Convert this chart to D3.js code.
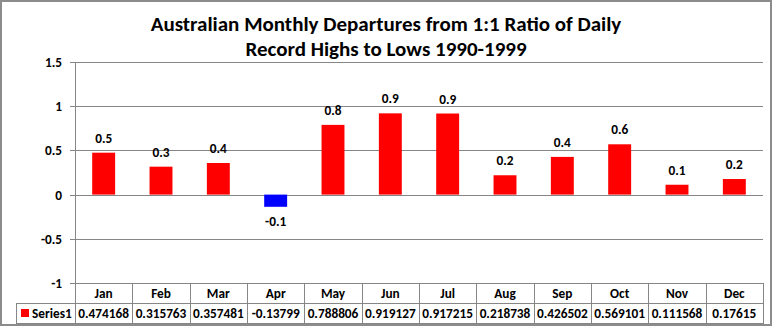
<!DOCTYPE html>
<html>
<head>
<meta charset="utf-8">
<script src="https://cdn.jsdelivr.net/npm/d3@7"></script>
<style>
  body { margin: 0; background: #fff; }
  svg text { font-family: Carlito, "Liberation Sans", Arial, sans-serif; font-weight: bold; fill: #000; }
</style>
</head>
<body>
<div id="chart"></div>
<script>
const months = ['Jan', 'Feb', 'Mar', 'Apr', 'May', 'Jun', 'Jul', 'Aug', 'Sep', 'Oct', 'Nov', 'Dec'];
const series1 = [0.474168, 0.315763, 0.357481, -0.13799, 0.788806, 0.919127, 0.917215, 0.218738, 0.426502, 0.569101, 0.111568, 0.17615];
const tableLabels = ['0.474168', '0.315763', '0.357481', '-0.13799', '0.788806', '0.919127', '0.917215', '0.218738', '0.426502', '0.569101', '0.111568', '0.17615'];
const yTicks = [-1, -0.5, 0, 0.5, 1, 1.5];
const titleLines = ['Australian Monthly Departures from 1:1 Ratio of Daily', 'Record Highs to Lows 1990-1999'];
const seriesName = 'Series1';

const width = 772;
const height = 326;
const margin = { top: 62, right: 9, bottom: 43, left: 75 };
const gridColor = '#868686';
const fs = '13.3px';

const svg = d3.select('#chart')
    .append('svg')
    .attr('width', width)
    .attr('height', height);

svg.append('rect')
    .attr('x', 1).attr('y', 1)
    .attr('width', width - 2).attr('height', height - 2)
    .attr('fill', '#fff')
    .attr('stroke', '#8c8c8c')
    .attr('stroke-width', 2);

const x = d3.scaleBand()
    .domain(months)
    .range([margin.left, width - margin.right]);

const xBar = d3.scaleBand()
    .domain(months)
    .range([margin.left, width - margin.right])
    .paddingInner(0.6)
    .paddingOuter(0.3);

const y = d3.scaleLinear()
    .domain([-1, 1.5])
    .range([height - margin.bottom, margin.top]);

const fmt = d => d3.format('.1f')(d).replace('−', '-');

// title
svg.append('g')
    .selectAll('text')
    .data(titleLines)
    .join('text')
    .attr('x', 386)
    .attr('y', (d, i) => 31 + i * 25)
    .attr('text-anchor', 'middle')
    .style('font-size', '21px')
    .text(d => d);

// gridlines + axis
const yAxis = svg.append('g')
    .attr('transform', `translate(${margin.left},0)`)
    .call(d3.axisLeft(y).tickValues(yTicks).tickSize(5).tickPadding(8).tickFormat(d => String(d)));
yAxis.select('.domain').remove();
yAxis.selectAll('line').attr('stroke', gridColor);
yAxis.selectAll('text').style('font-size', fs).attr('dy', '0.35em');
yAxis.selectAll('.tick').attr('transform', d => `translate(0,${Math.round(y(d)) + 0.5})`);

svg.append('g')
    .selectAll('line')
    .data(yTicks)
    .join('line')
    .attr('x1', margin.left)
    .attr('x2', width - margin.right)
    .attr('y1', d => Math.round(y(d)) + 0.5)
    .attr('y2', d => Math.round(y(d)) + 0.5)
    .attr('stroke', gridColor);

// bars
svg.append('g')
    .selectAll('rect')
    .data(series1)
    .join('rect')
    .attr('x', (d, i) => xBar(months[i]))
    .attr('y', d => y(Math.max(0, d)))
    .attr('width', xBar.bandwidth())
    .attr('height', d => Math.abs(y(d) - y(0)))
    .attr('fill', d => d < 0 ? '#0000ff' : '#ff0000');

// data labels
svg.append('g')
    .selectAll('text')
    .data(series1)
    .join('text')
    .attr('x', (d, i) => xBar(months[i]) + xBar.bandwidth() / 2)
    .attr('y', d => d < 0 ? y(d) + 19 : y(d) - 10)
    .attr('text-anchor', 'middle')
    .style('font-size', fs)
    .text(fmt);

// data table
const rowTop = height - margin.bottom;
const rowMid = rowTop + 20;
const rowBot = height - 2;
const tableLeft = 16;
const table = svg.append('g');

table.append('line')
    .attr('x1', margin.left + 0.5).attr('x2', margin.left + 0.5)
    .attr('y1', margin.top).attr('y2', rowBot)
    .attr('stroke', gridColor);

table.selectAll('.col')
    .data(months.slice(1).concat(['end']))
    .join('line')
    .attr('class', 'col')
    .attr('x1', d => Math.round(d === 'end' ? width - margin.right : x(d)) + 0.5)
    .attr('x2', d => Math.round(d === 'end' ? width - margin.right : x(d)) + 0.5)
    .attr('y1', rowTop).attr('y2', rowBot)
    .attr('stroke', gridColor);

table.append('line')
    .attr('x1', tableLeft).attr('x2', width - margin.right)
    .attr('y1', rowMid + 0.5).attr('y2', rowMid + 0.5)
    .attr('stroke', gridColor);
table.append('line')
    .attr('x1', tableLeft).attr('x2', width - margin.right)
    .attr('y1', rowBot - 0.5).attr('y2', rowBot - 0.5)
    .attr('stroke', gridColor);
table.append('line')
    .attr('x1', tableLeft + 0.5).attr('x2', tableLeft + 0.5)
    .attr('y1', rowMid).attr('y2', rowBot)
    .attr('stroke', gridColor);

table.selectAll('.month')
    .data(months)
    .join('text')
    .attr('class', 'month')
    .attr('x', d => x(d) + x.bandwidth() / 2)
    .attr('y', rowTop + 15)
    .attr('text-anchor', 'middle')
    .style('font-size', fs)
    .text(d => d);

table.selectAll('.val')
    .data(tableLabels)
    .join('text')
    .attr('class', 'val')
    .attr('x', (d, i) => x(months[i]) + x.bandwidth() / 2)
    .attr('y', rowMid + 15)
    .attr('text-anchor', 'middle')
    .style('font-size', fs)
    .text(d => d);

table.append('rect')
    .attr('x', 21).attr('y', rowMid + 6)
    .attr('width', 8).attr('height', 8)
    .attr('fill', '#ff0000');
table.append('text')
    .attr('x', 32).attr('y', rowMid + 15)
    .style('font-size', fs)
    .text(seriesName);
</script>
</body>
</html>
